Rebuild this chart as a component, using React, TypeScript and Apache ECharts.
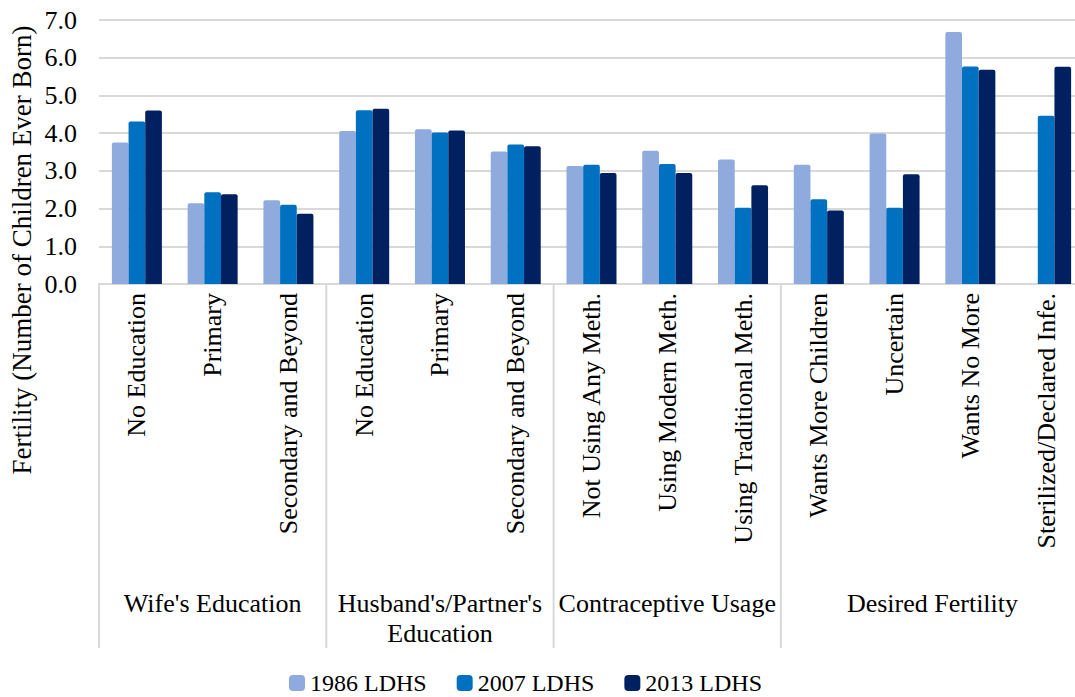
import React, { useEffect, useRef } from "react";
import * as echarts from "echarts";

// Subgroup categories along the x axis
const categories: string[] = [
  "No Education",
  "Primary",
  "Secondary and Beyond",
  "No Education",
  "Primary",
  "Secondary and Beyond",
  "Not Using Any Meth.",
  "Using Modern Meth.",
  "Using Traditional Meth.",
  "Wants More Children",
  "Uncertain",
  "Wants No More",
  "Sterilized/Declared Infe.",
];

// Outer grouping labels and how many categories each spans
const groupNames: string[] = [
  "Wife's Education",
  "Husband's/Partner's\nEducation",
  "Contraceptive Usage",
  "Desired Fertility",
];
const groupSizes: number[] = [3, 3, 3, 4];

const seriesNames: string[] = ["1986 LDHS", "2007 LDHS", "2013 LDHS"];
const seriesColors: string[] = ["#8FAADC", "#0070C0", "#002060"];

const ldhs1986: (number | null)[] = [3.75, 2.14, 2.22, 4.06, 4.1, 3.51, 3.13, 3.53, 3.3, 3.16, 3.99, 6.68, null];
const ldhs2007: (number | null)[] = [4.31, 2.43, 2.1, 4.61, 4.02, 3.7, 3.16, 3.18, 2.02, 2.25, 2.02, 5.77, 4.46];
const ldhs2013: (number | null)[] = [4.6, 2.38, 1.86, 4.65, 4.07, 3.65, 2.94, 2.94, 2.62, 1.95, 2.91, 5.68, 5.76];

const yTicks: number[] = [0, 1, 2, 3, 4, 5, 6, 7];
const yTitle = "Fertility (Number of Children Ever Born)";

const FONT = "'Liberation Serif', 'Times New Roman', serif";
const GRID_COLOR = "#D9D9D9";

export default function App() {
  const ref = useRef<HTMLDivElement>(null);

  useEffect(() => {
    if (!ref.current) return;
    const chart = echarts.init(ref.current, undefined, { renderer: "svg" });
    const seriesData = [ldhs1986, ldhs2007, ldhs2013];

    chart.setOption({
      animation: false,
      textStyle: { fontFamily: FONT },
      // plot area runs slightly past the right edge of the canvas
      grid: {
        left: 99,
        right: -9,
        top: 20,
        bottom: 413,
        containLabel: false,
        outerBoundsMode: "none",
      },
      legend: {
        data: seriesNames,
        left: 284,
        top: 666,
        itemWidth: 16,
        itemHeight: 16,
        itemGap: 30,
        icon: "roundRect",
        textStyle: { fontFamily: FONT, fontSize: 24, color: "#000" },
      },
      xAxis: {
        type: "category",
        data: categories,
        axisLine: { lineStyle: { color: GRID_COLOR, width: 2 } },
        axisTick: { show: false },
        axisLabel: {
          interval: 0,
          rotate: 90,
          margin: 9,
          fontFamily: FONT,
          fontSize: 26,
          color: "#000",
        },
      },
      yAxis: {
        type: "value",
        min: yTicks[0],
        max: yTicks[yTicks.length - 1],
        interval: 1,
        axisLine: { show: false },
        axisTick: { show: false },
        splitLine: { lineStyle: { color: GRID_COLOR, width: 2 } },
        axisLabel: {
          margin: 22,
          fontFamily: FONT,
          fontSize: 26,
          color: "#000",
          formatter: (v: number) => v.toFixed(1),
        },
      },
      series: seriesNames.map((name, i) => ({
        name,
        type: "bar",
        data: seriesData[i],
        barGap: "0%",
        barCategoryGap: "34%",
        itemStyle: { color: seriesColors[i], borderRadius: [2, 2, 0, 0] },
      })),
    });

    // Group separators and outer labels, positioned from the category scale
    const c0 = chart.convertToPixel({ xAxisIndex: 0 }, 0) as number;
    const c1 = chart.convertToPixel({ xAxisIndex: 0 }, 1) as number;
    const band = c1 - c0;
    const axisY = chart.convertToPixel({ yAxisIndex: 0 }, 0) as number;
    const sepBottom = 648;
    const graphics: any[] = [];
    let start = 0;
    groupNames.forEach((g, gi) => {
      const x0 = c0 - band / 2 + start * band;
      const x1 = x0 + groupSizes[gi] * band;
      graphics.push({
        type: "line",
        shape: { x1: x0, y1: axisY, x2: x0, y2: sepBottom },
        style: { stroke: GRID_COLOR, lineWidth: 2 },
        silent: true,
      });
      graphics.push({
        type: "text",
        x: (x0 + x1) / 2,
        y: 588,
        style: {
          text: g,
          fontFamily: FONT,
          fontSize: 26,
          lineHeight: 30,
          fill: "#000",
          align: "center",
          verticalAlign: "top",
        },
        silent: true,
      });
      start += groupSizes[gi];
    });
    graphics.push({
      type: "text",
      x: 22,
      y: 250,
      rotation: Math.PI / 2,
      style: {
        text: yTitle,
        fontFamily: FONT,
        fontSize: 27,
        fill: "#000",
        align: "center",
        verticalAlign: "middle",
      },
      silent: true,
    });
    chart.setOption({ graphic: graphics });

    return () => chart.dispose();
  }, []);

  return (
    <div
      ref={ref}
      style={{ position: "fixed", left: 0, top: 0, width: 1075, height: 697, background: "#fff" }}
    />
  );
}
